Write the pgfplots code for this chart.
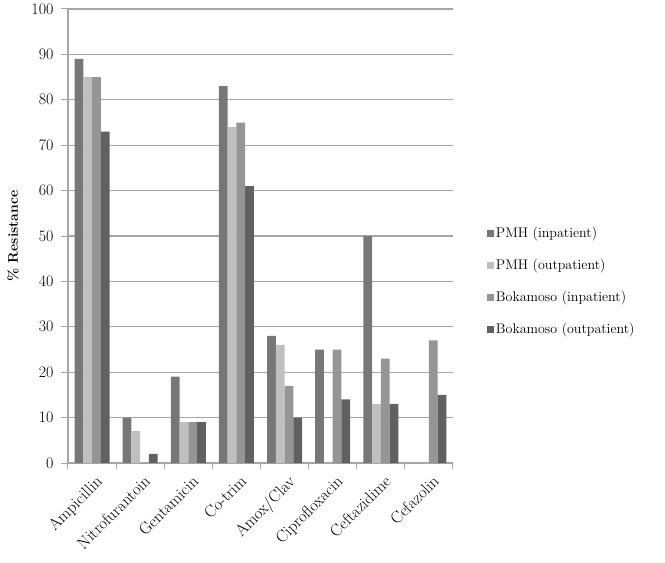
\documentclass[border=0pt]{standalone}
\usepackage{pgfplots}
\pgfplotsset{compat=1.18}
\definecolor{sA}{HTML}{777777}
\definecolor{sB}{HTML}{C0C0C0}
\definecolor{sC}{HTML}{959595}
\definecolor{sD}{HTML}{616161}
\definecolor{gridc}{HTML}{A6A6A6}
\begin{document}
\begin{tikzpicture}
\path[use as bounding box] (-68pt,-100pt) rectangle (597pt,463pt);
\begin{axis}[
  at={(0,0)}, anchor=south west,
  scale only axis, width=385pt, height=454pt,
  ybar=0pt, bar width=8.75pt,
  xmin=-0.5, xmax=7.5, ymin=0, ymax=100,
  ytick={0,10,...,100},
  xtick={0,...,7},
  xticklabels={Ampicillin,Nitrofurantoin,Gentamicin,Co-trim,Amox/Clav,Ciprofloxacin,Ceftazidime,Cefazolin},
  xticklabel style={rotate=45, anchor=north east, font=\fontsize{16.5}{18}\selectfont, inner sep=1pt, yshift=-4pt},
  yticklabel style={font=\fontsize{16}{18}\selectfont, xshift=-4pt},
  /pgf/number format/assume math mode=true,
  major x tick style={draw=none},
  minor xtick={-0.5,0.5,...,7.5},
  minor x tick style={gridc, line width=1pt},
  minor tick length=6pt,
  major tick length=7pt,
  tick align=outside,
  ytick style={gridc, line width=1pt},
  axis x line*=bottom, axis y line*=left,
  axis line style={gridc, line width=1.3pt, -},
  ymajorgrids, grid style={gridc, line width=1.3pt},
  ylabel={\textbf{\% Resistance}},
  ylabel style={font=\fontsize{14}{16}\selectfont},
  ylabel shift=6pt,
  legend style={at={(1.08,0.40)}, anchor=west, draw=none, font=\fontsize{14}{16}\selectfont,
    row sep=16pt, cells={anchor=west}},
  legend image code/.code={\fill[#1] (0pt,-3.5pt) rectangle (7pt,3.5pt);},
  every axis plot/.append style={draw=none},
]
\addplot[fill=sA] coordinates {(0,89) (1,10) (2,19) (3,83) (4,28) (5,25) (6,50) (7,0)};
\addplot[fill=sB] coordinates {(0,85) (1,7) (2,9) (3,74) (4,26) (5,0) (6,13) (7,0)};
\addplot[fill=sC] coordinates {(0,85) (1,0) (2,9) (3,75) (4,17) (5,25) (6,23) (7,27)};
\addplot[fill=sD] coordinates {(0,73) (1,2) (2,9) (3,61) (4,10) (5,14) (6,13) (7,15)};
\legend{PMH (inpatient),PMH (outpatient),Bokamoso (inpatient),Bokamoso (outpatient)}
\end{axis}
\end{tikzpicture}
\end{document}
